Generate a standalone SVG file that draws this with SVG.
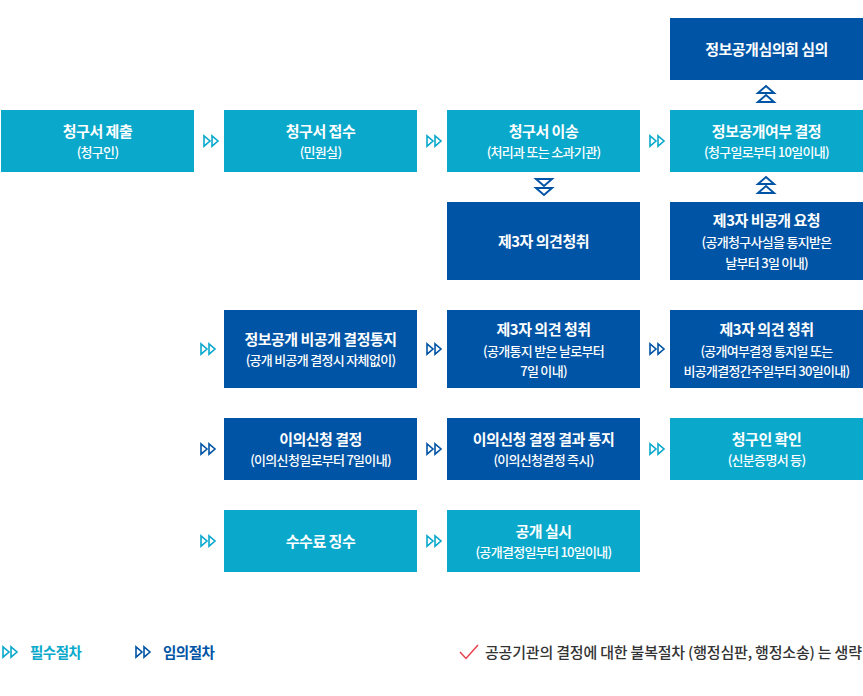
<svg xmlns="http://www.w3.org/2000/svg" xmlns:xlink="http://www.w3.org/1999/xlink" width="863" height="696" viewBox="0 0 863 696">
<style>
.lt{fill:#0aa9cc}
.dk{fill:#0054a5}
.t{font-family:"Noto Sans CJK KR","Noto Sans",sans-serif;fill:#fff;text-anchor:middle}
.h{font-size:15px;font-weight:700;letter-spacing:-0.5px}
.s{font-size:13px;font-weight:500;letter-spacing:-0.7px}
.ac{fill:none;stroke:#0aa9cc;stroke-width:1.6;stroke-linejoin:miter}
.ad{fill:none;stroke:#0054a5;stroke-width:1.6;stroke-linejoin:miter}
.va{fill:none;stroke:#0054a5;stroke-width:2}
.lg{font-family:"Noto Sans CJK KR","Noto Sans",sans-serif;font-size:14.5px;font-weight:700;letter-spacing:-0.5px}
</style>
<defs>
<g id="rr"><polygon points="1,0.8 7,6 1,11.2"/><polygon points="9,0.8 15,6 9,11.2"/></g>
<g id="up"><polygon points="1,8 9,1 17,8"/><polygon points="1,17 9,10 17,17"/></g>
<g id="dn"><polygon points="1,1 17,1 9,8"/><polygon points="1,10 17,10 9,17"/></g>
</defs>
<rect width="863" height="696" fill="#fff"/>

<g id="connectors">
<use xlink:href="#rr" class="ac" x="203" y="135"/>
<use xlink:href="#rr" class="ac" x="426" y="135"/>
<use xlink:href="#rr" class="ac" x="649" y="135"/>
<use xlink:href="#up" class="va" x="757" y="85"/>
<use xlink:href="#up" class="va" x="757" y="176"/>
<use xlink:href="#dn" class="va" x="535" y="178"/>
<use xlink:href="#rr" class="ac" x="200" y="343"/>
<use xlink:href="#rr" class="ad" x="426" y="343"/>
<use xlink:href="#rr" class="ad" x="649" y="343"/>
<use xlink:href="#rr" class="ad" x="200" y="443"/>
<use xlink:href="#rr" class="ad" x="426" y="443"/>
<use xlink:href="#rr" class="ac" x="649" y="443"/>
<use xlink:href="#rr" class="ac" x="200" y="535"/>
<use xlink:href="#rr" class="ac" x="426" y="535"/>
</g>

<g id="n1"><rect class="lt" x="1" y="110" width="193" height="62"/>
<text class="t h" x="97.5" y="136.5">청구서 제출</text><text class="t s" x="97.5" y="157">(청구인)</text></g>
<g id="n2"><rect class="lt" x="224" y="110" width="193" height="62"/>
<text class="t h" x="320.5" y="136.5">청구서 접수</text><text class="t s" x="320.5" y="157">(민원실)</text></g>
<g id="n3"><rect class="lt" x="447" y="110" width="193" height="62"/>
<text class="t h" x="543.5" y="136.5">청구서 이송</text><text class="t s" x="543.5" y="157">(처리과 또는 소과기관)</text></g>
<g id="n4"><rect class="lt" x="670" y="110" width="193" height="62"/>
<text class="t h" x="766.5" y="136.5">정보공개여부 결정</text><text class="t s" x="766.5" y="157">(청구일로부터 10일이내)</text></g>
<g id="n5"><rect class="dk" x="670" y="18" width="193" height="62"/>
<text class="t h" x="766.5" y="55">정보공개심의회 심의</text></g>
<g id="n6"><rect class="dk" x="447" y="202" width="193" height="78"/>
<text class="t h" x="543.5" y="246.5">제3자 의견청취</text></g>
<g id="n7"><rect class="dk" x="670" y="202" width="193" height="78"/>
<text class="t h" x="766.5" y="226">제3자 비공개 요청</text><text class="t s" x="766.5" y="247">(공개청구사실을 통지받은</text><text class="t s" x="766.5" y="267.5">날부터 3일 이내)</text></g>
<g id="n8"><rect class="dk" x="224" y="310" width="193" height="78"/>
<text class="t h" x="320.5" y="344.5">정보공개 비공개 결정통지</text><text class="t s" x="320.5" y="364.5">(공개 비공개 결정시 자체없이)</text></g>
<g id="n9"><rect class="dk" x="447" y="310" width="193" height="78"/>
<text class="t h" x="543.5" y="334.5">제3자 의견 청취</text><text class="t s" x="543.5" y="355.5">(공개통지 받은 날로부터</text><text class="t s" x="543.5" y="376">7일 이내)</text></g>
<g id="n10"><rect class="dk" x="670" y="310" width="193" height="78"/>
<text class="t h" x="766.5" y="334.5">제3자 의견 청취</text><text class="t s" x="766.5" y="355.5">(공개여부결정 통지일 또는</text><text class="t s" x="766.5" y="376">비공개결정간주일부터 30일이내)</text></g>
<g id="n11"><rect class="dk" x="224" y="418" width="193" height="62"/>
<text class="t h" x="320.5" y="444.5">이의신청 결정</text><text class="t s" x="320.5" y="465">(이의신청일로부터 7일이내)</text></g>
<g id="n12"><rect class="dk" x="447" y="418" width="193" height="62"/>
<text class="t h" x="543.5" y="444.5">이의신청 결정 결과 통지</text><text class="t s" x="543.5" y="465">(이의신청결정 즉시)</text></g>
<g id="n13"><rect class="lt" x="670" y="418" width="193" height="62"/>
<text class="t h" x="766.5" y="444.5">청구인 확인</text><text class="t s" x="766.5" y="465">(신분증명서 등)</text></g>
<g id="n14"><rect class="lt" x="224" y="510" width="193" height="62"/>
<text class="t h" x="320.5" y="546.5">수수료 징수</text></g>
<g id="n15"><rect class="lt" x="447" y="510" width="193" height="62"/>
<text class="t h" x="543.5" y="536.5">공개 실시</text><text class="t s" x="543.5" y="557">(공개결정일부터 10일이내)</text></g>

<g id="legend">
<use xlink:href="#rr" class="ac" x="2" y="646"/>
<text class="lg" x="30" y="657.5" fill="#0aa9cc">필수절차</text>
<use xlink:href="#rr" class="ad" x="135" y="646"/>
<text class="lg" x="163" y="657.5" fill="#0054a5">임의절차</text>
<polyline points="460,652 466,658.5 478,645" fill="none" stroke="#e8414b" stroke-width="1.5"/>
<text x="485" y="657.5" font-family="&quot;Noto Sans CJK KR&quot;,&quot;Noto Sans&quot;,sans-serif" font-size="15" font-weight="500" letter-spacing="-0.2" fill="#333">공공기관의 결정에 대한 불복절차 (행정심판, 행정소송) 는 생략</text>
</g>
</svg>
